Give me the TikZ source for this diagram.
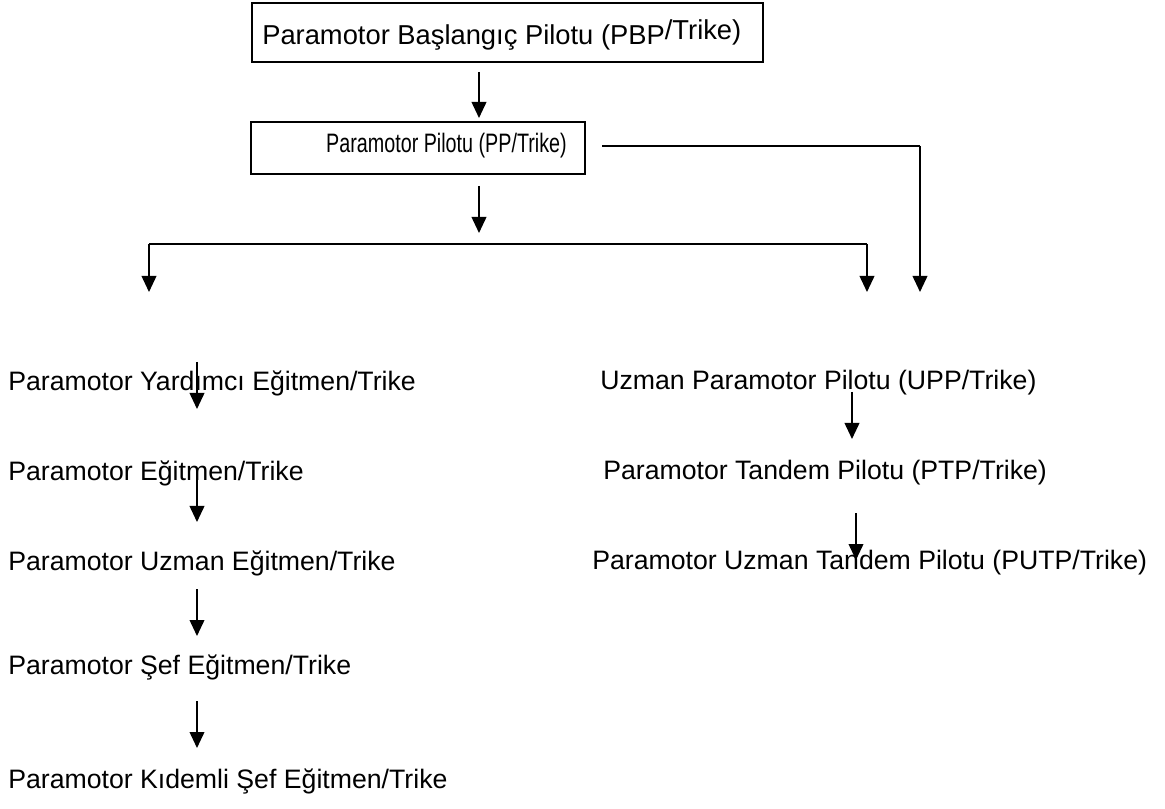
\documentclass[tikz,border=0pt]{standalone}
\usepackage{fontspec}
\setmainfont{Liberation Sans}
\usetikzlibrary{arrows.meta}
\begin{document}
\begin{tikzpicture}[x=0.75pt,y=-0.75pt,
  lbl/.style={anchor=west,inner sep=0pt,font=\fontsize{20}{24}\selectfont},
  boxtext/.style={inner sep=0pt,font=\fontsize{20}{24}\selectfont},
  arr/.style={-{Triangle[width=11pt,length=12pt]},line width=1.3pt},
  bus/.style={line width=2.2pt},
  frame1/.style={draw,line width=2pt},
  frame2/.style={draw,line width=1.1pt}]
\useasboundingbox (0,0) rectangle (1165,809);
% boxes
\draw[frame1] (252,3) rectangle (763,62);
\node[boxtext,anchor=west,font=\fontsize{20.5}{24}\selectfont] (pbp) at (262,35) {Paramotor Başlangıç Pilotu (PBP\raisebox{4pt}{/Trike)}};
\draw[frame2] (251,122) rectangle (585,174);
\node[boxtext,anchor=east] (pp) at (567,146) {\scalebox{0.74}[1]{Paramotor Pilotu (PP/Trike)}};
% left column
\node[lbl] (ly) at (8,383) {Paramotor Yardımcı Eğitmen/Trike};
\node[lbl] (le) at (8,473) {Paramotor Eğitmen/Trike};
\node[lbl] (lu) at (8,563) {Paramotor Uzman Eğitmen/Trike};
\node[lbl] (ls) at (8,667) {Paramotor Şef Eğitmen/Trike};
\node[lbl] (lk) at (8,781) {Paramotor Kıdemli Şef Eğitmen/Trike};
% right column
\node[lbl] (ru) at (600,383) {Uzman Paramotor Pilotu (UPP/Trike)};
\node[lbl] (rt) at (603,473) {Paramotor Tandem Pilotu (PTP/Trike)};
\node[lbl] (rp) at (592,563) {Paramotor Uzman Tandem Pilotu (PUTP/Trike)};
% coordinates for connector ends
\coordinate (a1s) at (479,72);  \coordinate (a1e) at (479,118);
\coordinate (a2s) at (479,186); \coordinate (a2e) at (479,233);
\coordinate (bl) at (149,244);  \coordinate (br) at (867,244);
\coordinate (blE) at (149,292); \coordinate (brE) at (867,292);
\coordinate (es) at (602,146);  \coordinate (ec) at (920,146); \coordinate (ee) at (920,292);
\coordinate (l1s) at (197,362); \coordinate (l1e) at (197,409);
\coordinate (l2s) at (197,475); \coordinate (l2e) at (197,522);
\coordinate (l3s) at (197,589); \coordinate (l3e) at (197,636);
\coordinate (l4s) at (197,701); \coordinate (l4e) at (197,748);
\coordinate (r1s) at (852,392); \coordinate (r1e) at (852,439);
\coordinate (r2s) at (856,513); \coordinate (r2e) at (856,560);
% connectors
\draw[arr] (a1s) -- (a1e);
\draw[arr] (a2s) -- (a2e);
\draw[bus] (bl) -- (br);
\draw[arr] (bl) -- (blE);
\draw[arr] (br) -- (brE);
\draw[bus] (es) -- (ec);
\draw[arr] (ec) -- (ee);
\draw[arr] (l1s) -- (l1e);
\draw[arr] (l2s) -- (l2e);
\draw[arr] (l3s) -- (l3e);
\draw[arr] (l4s) -- (l4e);
\draw[arr] (r1s) -- (r1e);
\draw[arr] (r2s) -- (r2e);
\end{tikzpicture}
\end{document}
